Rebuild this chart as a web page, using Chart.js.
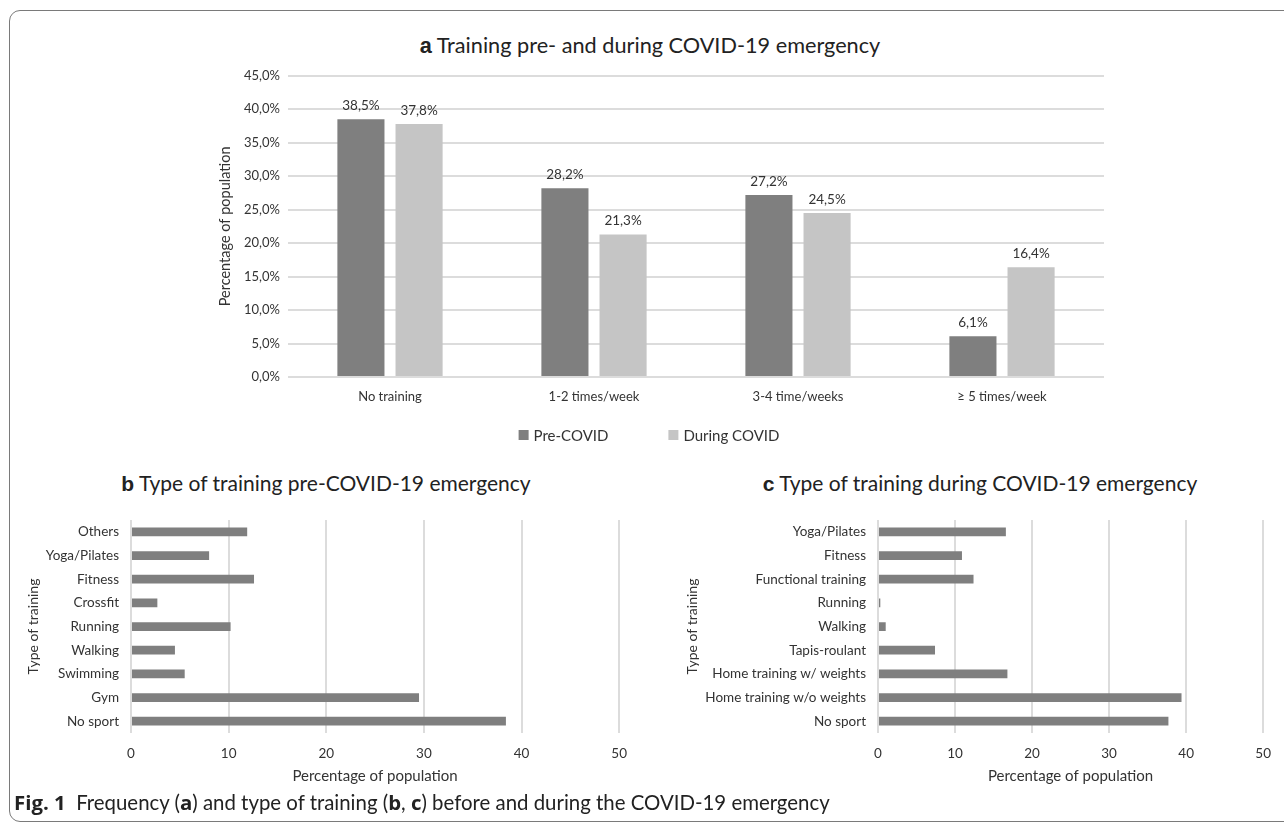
<!DOCTYPE html>
<html>
<head>
<meta charset="utf-8">
<script src="https://cdn.jsdelivr.net/npm/chart.js@4.4.1/dist/chart.umd.min.js"></script>
<style>
  body { margin: 0; width: 1284px; height: 822px; background: #fff; position: relative; overflow: hidden; font-family: Lato, sans-serif; color: #333; }
  .frame { position: absolute; left: 9px; top: 10px; width: 1320px; height: 812px; border: 1.5px solid #7a7a7a; border-radius: 11px; box-sizing: border-box; }
  .box { position: absolute; }
  .ptitle { position: absolute; white-space: nowrap; transform: translate(-50%, -50%); color: #222; }
  .ptitle b { font-family: "Liberation Sans", Arial, sans-serif; }
  .caption { position: absolute; left: 14px; top: 788px; font-size: 20.4px; color: #222; white-space: nowrap; }
  .caption b { font-family: "Open Sans", sans-serif; font-weight: 700; }
</style>
</head>
<body>
<div class="frame"></div>

<div class="ptitle" style="left:650px; top:45px; font-size:21.7px;"><b>a</b> Training pre- and during COVID-19 emergency</div>
<div class="box" style="left:200px; top:60px; width:940px; height:393px;"><canvas id="chart-a"></canvas></div>

<div class="ptitle" style="left:326px; top:483px; font-size:21px;"><b>b</b> Type of training pre-COVID-19 emergency</div>
<div class="box" style="left:10px; top:500px; width:630px; height:300px;"><canvas id="chart-b"></canvas></div>

<div class="ptitle" style="left:980px; top:483px; font-size:21px;"><b>c</b> Type of training during COVID-19 emergency</div>
<div class="box" style="left:640px; top:500px; width:644px; height:300px;"><canvas id="chart-c"></canvas></div>

<div class="caption"><b>Fig. 1</b>&nbsp; Frequency (<b>a</b>) and type of training (<b>b</b>, <b>c</b>) before and during the COVID-19 emergency</div>

<script>
// panel a
const freqLabels = ['No training', '1-2 times/week', '3-4 time/weeks', '≥ 5 times/week'];
const preCovid = [38.5, 28.2, 27.2, 6.1];
const duringCovid = [37.8, 21.3, 24.5, 16.4];

// panel b
const preTypeLabels = ['Others', 'Yoga/Pilates', 'Fitness', 'Crossfit', 'Running', 'Walking', 'Swimming', 'Gym', 'No sport'];
const preTypeValues = [11.9, 8.0, 12.6, 2.7, 10.2, 4.5, 5.5, 29.5, 38.4];

// panel c
const duringTypeLabels = ['Yoga/Pilates', 'Fitness', 'Functional training', 'Running', 'Walking', 'Tapis-roulant',
  'Home training w/ weights', 'Home training w/o weights', 'No sport'];
const duringTypeValues = [16.6, 10.9, 12.4, 0.3, 1.0, 7.4, 16.8, 39.4, 37.7];

const DARK = '#7f7f7f';
const LIGHT = '#c5c5c5';
const GRID = '#dcdcdc';
const TEXT = '#333';

Chart.defaults.font.family = 'Lato, sans-serif';
Chart.defaults.color = TEXT;

const pct = v => v.toFixed(1).replace('.', ',') + '%';

const valueLabels = {
  id: 'valueLabels',
  afterDatasetsDraw(chart) {
    const { ctx } = chart;
    ctx.save();
    ctx.font = '13.5px Lato, sans-serif';
    ctx.fillStyle = TEXT;
    ctx.textAlign = 'center';
    ctx.textBaseline = 'bottom';
    chart.data.datasets.forEach((ds, i) => {
      chart.getDatasetMeta(i).data.forEach((bar, j) => {
        ctx.fillText(pct(ds.data[j]), bar.x, bar.y - 7);
      });
    });
    ctx.restore();
  }
};

// legend row under the axis, with the wide spacing of the original
const bottomLegend = {
  id: 'bottomLegend',
  afterDraw(chart, args, opts) {
    const { ctx, chartArea } = chart;
    const y = chartArea.bottom + opts.offsetY;
    ctx.save();
    ctx.font = '15px Lato, sans-serif';
    ctx.textBaseline = 'middle';
    const items = chart.data.datasets.map(ds => ({
      text: ds.label,
      color: ds.backgroundColor,
      w: 15 + ctx.measureText(ds.label).width
    }));
    const total = items.reduce((s, it) => s + it.w, 0) + opts.gap * (items.length - 1);
    let x = opts.centerX - total / 2;
    items.forEach(it => {
      ctx.fillStyle = it.color;
      ctx.fillRect(x, y - 5, 10, 10);
      ctx.fillStyle = TEXT;
      ctx.fillText(it.text, x + 15, y + 1);
      x += it.w + opts.gap;
    });
    ctx.restore();
  }
};

new Chart(document.getElementById('chart-a'), {
  type: 'bar',
  data: {
    labels: freqLabels,
    datasets: [
      { label: 'Pre-COVID', data: preCovid, backgroundColor: DARK },
      { label: 'During COVID', data: duringCovid, backgroundColor: LIGHT }
    ]
  },
  options: {
    responsive: true,
    maintainAspectRatio: false,
    animation: false,
    categoryPercentage: 0.57,
    barPercentage: 0.81,
    layout: { padding: { top: 15, right: 36, bottom: 36, left: 0 } },
    scales: {
      x: {
        grid: { display: false, drawTicks: false },
        border: { display: false },
        ticks: { font: { size: 13 }, padding: 12 },
        afterFit: s => { s.height = 40; }
      },
      y: {
        min: 0,
        max: 45,
        ticks: { stepSize: 5, padding: 8, font: { size: 13 }, callback: v => pct(v) },
        grid: { color: GRID, lineWidth: 2, drawTicks: false },
        border: { display: false },
        title: { display: true, text: 'Percentage of population', font: { size: 14.5 }, padding: { top: 17 } },
        afterFit: s => { s.width = 88; }
      }
    },
    plugins: {
      legend: { display: false },
      tooltip: { enabled: false },
      bottomLegend: { centerX: 449, offsetY: 58, gap: 60 }
    }
  },
  plugins: [valueLabels, bottomLegend]
});

function buildTypeChart(id, labels, values, yWidth, titlePad, padRight) {
  return new Chart(document.getElementById(id), {
    type: 'bar',
    data: {
      labels,
      datasets: [{ data: values, backgroundColor: DARK, barPercentage: 0.37, categoryPercentage: 1 }]
    },
    options: {
      indexAxis: 'y',
      responsive: true,
      maintainAspectRatio: false,
      animation: false,
      layout: { padding: { top: 15, right: padRight, bottom: 0, left: 0 } },
      scales: {
        x: {
          min: 0,
          max: 50,
          ticks: { stepSize: 10, padding: 13, font: { size: 13.5 } },
          grid: { color: GRID, lineWidth: 2, drawTicks: false },
          border: { display: false },
          title: { display: true, text: 'Percentage of population', font: { size: 15 }, padding: { bottom: 15 } },
          afterFit: s => { s.height = 67; }
        },
        y: {
          grid: { display: false, drawTicks: false },
          border: { display: false },
          ticks: { font: { size: 13.5 }, padding: 12 },
          title: { display: true, text: 'Type of training', font: { size: 14 }, padding: { top: titlePad } },
          afterFit: s => { s.width = yWidth; }
        }
      },
      plugins: { legend: { display: false }, tooltip: { enabled: false } }
    }
  });
}

buildTypeChart('chart-b', preTypeLabels, preTypeValues, 121, 15, 18);
buildTypeChart('chart-c', duringTypeLabels, duringTypeValues, 238, 44, 14);
</script>
</body>
</html>
